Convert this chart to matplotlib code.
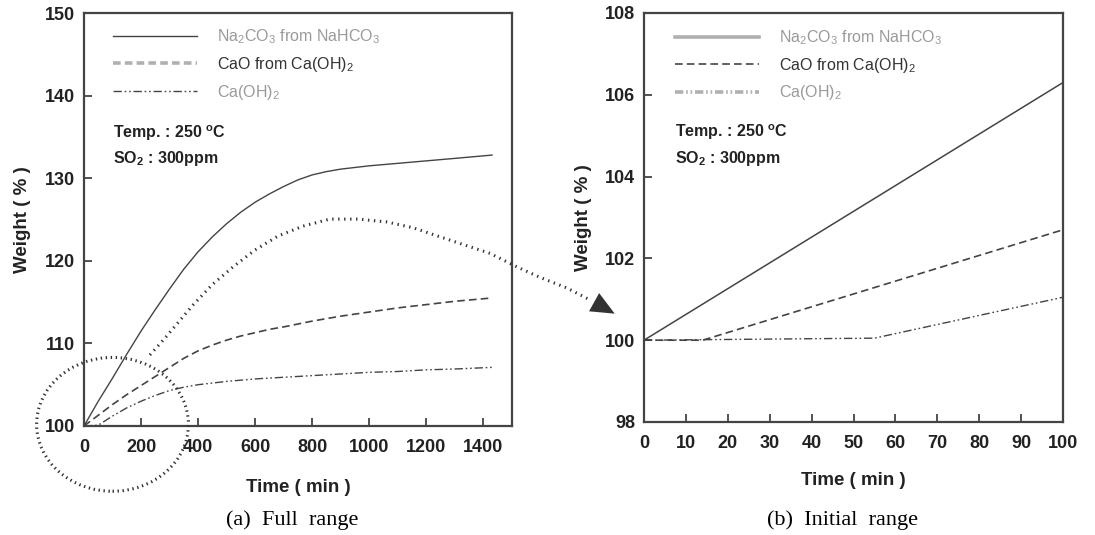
# -*- coding: utf-8 -*-
"""SO2 uptake weight curves, full range and initial range"""

# %%
import matplotlib
matplotlib.use('Agg')
import matplotlib.pyplot as plt
from matplotlib.lines import Line2D
from matplotlib.patches import Ellipse

plt.rcParams['font.family'] = ['Liberation Sans', 'DejaVu Sans']
plt.rcParams['mathtext.fontset'] = 'custom'
plt.rcParams['mathtext.rm'] = 'Liberation Sans'
plt.rcParams['mathtext.bf'] = 'Liberation Sans:bold'
plt.rcParams['lines.scale_dashes'] = False

# %%
# (a) full range
t_full = [0, 50, 100, 150, 200, 250, 300, 350, 400, 450, 500, 550, 600, 650, 700, 750, 800, 850, 900,
          1000, 1100, 1200, 1300, 1430]
na_full = [100, 103.0, 105.8, 108.7, 111.5, 114.1, 116.6, 119.0, 121.1, 122.9, 124.5, 125.9, 127.1,
           128.1, 129.0, 129.8, 130.4, 130.8, 131.1, 131.5, 131.8, 132.1, 132.4, 132.8]
cao_full = [100, 101.3, 102.6, 103.8, 104.9, 106.0, 107.1, 108.2, 109.1, 109.8, 110.4, 110.9, 111.3,
            111.7, 112.0, 112.35, 112.7, 113.0, 113.3, 113.8, 114.3, 114.7, 115.1, 115.5]
caoh_full = [100, 100.1, 101.2, 102.2, 103.0, 103.7, 104.3, 104.7, 105.0, 105.2, 105.4, 105.55, 105.7,
             105.8, 105.9, 106.0, 106.1, 106.2, 106.3, 106.5, 106.6, 106.8, 106.9, 107.1]

# (b) initial range
t_na_init = [0, 100]
na_init = [100, 106.3]
t_cao_init = [0, 14, 100]
cao_init = [100, 100, 102.7]
t_caoh_init = [0, 55, 100]
caoh_init = [100, 100.05, 101.05]

# zoom marker (ellipse) and dotted pointer, in panel (a) data units
circle_center = (100, 100.2)
circle_size = (532, 16.2)
pointer_t = [231, 284, 382, 449, 522, 599, 680, 768, 862, 960, 1062, 1153, 1248, 1335, 1423, 1518,
             1598, 1693, 1774]
pointer_w = [108.6, 110.65, 114.65, 117.1, 119.25, 121.3, 123.0, 124.2, 125.05, 125.05, 124.7, 124.0,
             122.9, 121.9, 120.9, 119.25, 118.0, 116.7, 115.25]
pointer_tip = (1860, 113.6)

labels = [r'Na$_2$CO$_3$ from NaHCO$_3$', r'CaO from Ca(OH)$_2$', r'Ca(OH)$_2$']
label_colors = ['#9a9a9a', '#333333', '#9a9a9a']

# %%
dark = '#444444'
light = '#b0b0b0'
dash = (0, (5.5, 3.0))
dashdotdot = (0, (6.0, 2.0, 1.2, 2.0, 1.2, 2.0))
tick_font = dict(fontsize=13, fontweight='bold')

fig = plt.figure(figsize=(10.95, 5.35), dpi=100)
ax1 = fig.add_axes([84 / 1095, 109 / 535, 428 / 1095, 413 / 535])
ax2 = fig.add_axes([644 / 1095, 113 / 535, 419 / 1095, 409 / 535])


def style_axes(ax, xticks, yticks, xlim, ylim, xlab_y):
    ax.set_xlim(*xlim)
    ax.set_ylim(*ylim)
    ax.set_xticks(xticks)
    ax.set_yticks(yticks)
    ax.set_xticklabels([str(v) for v in xticks], **tick_font)
    ax.set_yticklabels([str(v) for v in yticks], **tick_font)
    ax.tick_params(direction='in', length=6, width=1.3, color=dark, labelcolor='#222222')
    ax.tick_params(axis='x', pad=9.5)
    ax.tick_params(axis='y', pad=6.5)
    for s in ax.spines.values():
        s.set_linewidth(1.6)
        s.set_color(dark)
    ax.set_xlabel('Time ( min )', fontsize=13.5, fontweight='bold', color='#222222')
    ax.set_ylabel('Weight ( % )', fontsize=13.5, fontweight='bold', color='#222222')
    ax.xaxis.set_label_coords(0.5, xlab_y)
    ax.xaxis.label.set_va('center')
    ax.yaxis.set_label_coords(-0.124, 0.5)


def add_notes(ax, handles, x0, y0):
    leg = ax.legend(handles, labels, loc='upper left', bbox_to_anchor=(x0, y0), frameon=False,
                    fontsize=11.5, handlelength=5.25, handletextpad=1.25, labelspacing=0.55,
                    borderpad=0, borderaxespad=0, labelcolor=label_colors)
    ax.text(x0, y0 - 0.255, 'Temp. : 250 $^{\\mathbf{o}}$C', transform=ax.transAxes,
            fontsize=11.5, fontweight='bold', va='center', color='#222222')
    ax.text(x0, y0 - 0.318, r'SO$_\mathbf{2}$ : 300ppm', transform=ax.transAxes,
            fontsize=11.5, fontweight='bold', va='center', color='#222222')
    return leg


# %%
# (a) Full range
ax1.plot(t_full, na_full, color=dark, lw=1.0)
ax1.plot(t_full, cao_full, color=dark, lw=1.2, linestyle=dash)
ax1.plot(t_full, caoh_full, color=dark, lw=1.0, linestyle=dashdotdot)
style_axes(ax1, list(range(0, 1401, 200)), list(range(100, 151, 10)), (0, 1500), (100, 150), -0.148)
h1 = [Line2D([], [], color=dark, lw=1.0),
      Line2D([], [], color=light, lw=2.6, linestyle=dash),
      Line2D([], [], color=dark, lw=1.0, linestyle=dashdotdot)]
add_notes(ax1, h1, 0.068, 0.965)

ell = Ellipse(circle_center, circle_size[0], circle_size[1], fill=False, edgecolor='#333333',
              lw=2.2, linestyle=(0, (1.0, 2.6)), clip_on=False, zorder=5)
ax1.add_patch(ell)
ax1.plot(pointer_t, pointer_w, color='#333333', lw=2.2, linestyle=(0, (1.0, 3.3)),
         clip_on=False, zorder=5)
ax1.annotate('', xy=pointer_tip, xytext=(pointer_t[-1], pointer_w[-1]), annotation_clip=False,
             arrowprops=dict(arrowstyle='-|>,head_length=1.7,head_width=0.75', lw=0,
                             color='#333333', shrinkA=0, shrinkB=0))

# %%
# (b) Initial range
ax2.plot(t_na_init, na_init, color=dark, lw=1.1)
ax2.plot(t_cao_init, cao_init, color=dark, lw=1.2, linestyle=dash)
ax2.plot(t_caoh_init, caoh_init, color=dark, lw=1.0, linestyle=dashdotdot)
style_axes(ax2, list(range(0, 101, 10)), list(range(98, 109, 2)), (0, 100), (98, 108), -0.142)
h2 = [Line2D([], [], color=light, lw=2.6),
      Line2D([], [], color=dark, lw=1.2, linestyle=dash),
      Line2D([], [], color=light, lw=2.6, linestyle=dashdotdot)]
add_notes(ax2, h2, 0.074, 0.963)

fig.text(292 / 1095, 1 - 520 / 535, '(a)  Full  range', family='Liberation Serif', fontsize=16,
         ha='center', va='center')
fig.text(843 / 1095, 1 - 520 / 535, '(b)  Initial  range', family='Liberation Serif', fontsize=16,
         ha='center', va='center')

fig.savefig('out.png', dpi=100)
